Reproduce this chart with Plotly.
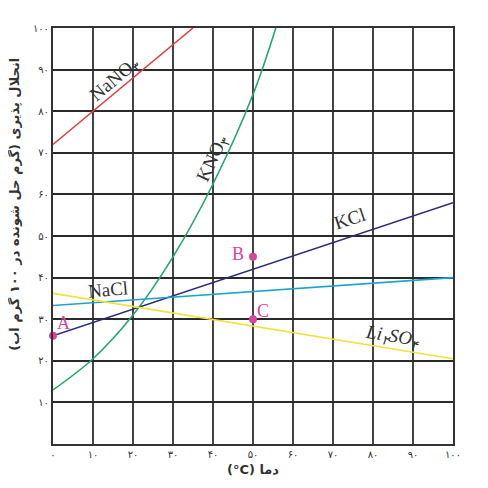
import plotly.graph_objects as go

# solubility data (g solute / 100 g water)
temp_lin = [0, 100]
nacl = [33.3, 40]
kcl = [26, 58]
li2so4 = [36.2, 20.5]

nano3_t = [0, 35]
nano3 = [72, 100]

kno3_t = [0, 10, 20, 30, 40, 50, 55.7]
kno3 = [13, 20.5, 31, 45, 62.5, 84, 100]

pts_x = [0, 50, 50]
pts_y = [26, 45, 30]
pts_lbl = ["A", "B", "C"]

fa = "۰۱۲۳۴۵۶۷۸۹"
def fa_num(n):
    return "".join(fa[int(c)] for c in str(n))

xticks = list(range(0, 101, 10))
yticks = list(range(10, 101, 10))

fig = go.Figure()
fig.add_trace(go.Scatter(x=nano3_t, y=nano3, mode="lines", line=dict(color="#d9453f", width=1.6)))
fig.add_trace(go.Scatter(x=kno3_t, y=kno3, mode="lines", line=dict(color="#27a56c", width=1.6, shape="spline")))
fig.add_trace(go.Scatter(x=temp_lin, y=kcl, mode="lines", line=dict(color="#2b2b7c", width=1.6)))
fig.add_trace(go.Scatter(x=temp_lin, y=nacl, mode="lines", line=dict(color="#1ea3d0", width=1.6)))
fig.add_trace(go.Scatter(x=temp_lin, y=li2so4, mode="lines", line=dict(color="#f0e23a", width=1.6)))
fig.add_trace(go.Scatter(x=pts_x, y=pts_y, mode="markers", cliponaxis=False,
                         marker=dict(color="#d9449a", size=8)))

serif = dict(family="Liberation Serif", size=19, color="#333")
# curve labels
labels = [
    ("NaNO<sub>۳</sub>", 15.5, 87.4, -40),
    ("KNO<sub>۳</sub>", 40, 68.5, -65),
    ("KCl", 74.3, 54.1, -18),
    ("NaCl", 13.75, 37.2, -5),
    ("<i>Li<sub>۲</sub>SO<sub>۴</sub></i>", 85, 25.8, 9),
]
for txt, x, y, ang in labels:
    fig.add_annotation(x=x, y=y, text=txt, showarrow=False, textangle=ang, font=serif)

pt_pos = [(2.6, 29.2), (46.3, 45.7), (52.6, 32)]
for lbl, (x, y) in zip(pts_lbl, pt_pos):
    fig.add_annotation(x=x, y=y, text=lbl, showarrow=False,
                       font=dict(family="Liberation Serif", size=18, color="#d9449a"))

# y title sits a little above the middle in the original, so it's an annotation
fig.add_annotation(xref="paper", yref="paper", x=-0.095, y=0.575, xanchor="center", yanchor="middle",
                   text="<b>انحلال پذیری (گرم حل شونده در ۱۰۰ گرم آب)\u200f</b>",
                   textangle=-90, showarrow=False, font=dict(size=13, color="#333"))

fig.update_xaxes(range=[0, 100], tickvals=xticks, ticktext=[fa_num(v) for v in xticks],
                 showgrid=True, gridcolor="#444", gridwidth=1.5, automargin=False,
                 showline=True, linecolor="#333", linewidth=2, mirror=True,
                 zeroline=False, ticks="", tickfont=dict(size=10, color="#333"),
                 title=dict(text="<b>(°C) دما</b>", font=dict(size=13, color="#333"), standoff=6))
fig.update_yaxes(range=[0, 100], tickvals=yticks, ticktext=[fa_num(v) for v in yticks],
                 showgrid=True, gridcolor="#2a2a2a", gridwidth=2.2, automargin=False,
                 showline=True, linecolor="#333", linewidth=2, mirror=True,
                 zeroline=False, ticks="", tickfont=dict(size=10, color="#333"))

# page has an 8px body margin, so the figure is a bit smaller than the window
fig.update_layout(width=480, height=480, showlegend=False,
                  plot_bgcolor="white", paper_bgcolor="white",
                  font=dict(family="DejaVu Sans"),
                  margin=dict(l=45, r=35, t=20, b=44))
fig.write_html("out.html")
